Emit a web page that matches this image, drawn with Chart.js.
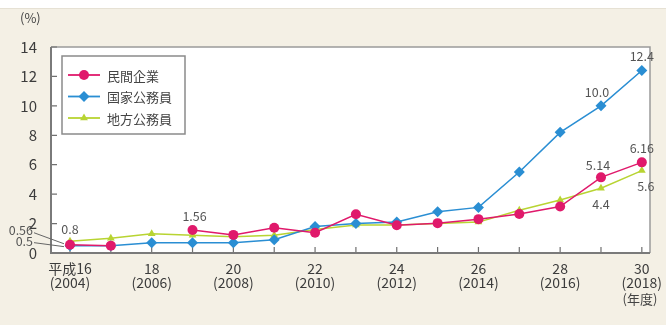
<!DOCTYPE html>
<html>
<head>
<meta charset="utf-8">
<script src="https://cdn.jsdelivr.net/npm/chart.js@4/dist/chart.umd.min.js"></script>
<style>
  html, body { margin: 0; padding: 0; background: #f4f0e5; }
  #wrap { width: 666px; height: 325px; }
</style>
</head>
<body>
<div id="wrap"><canvas id="line-chart" width="666" height="325"></canvas></div>
<script>
// 年度 (西暦)
var years = [2004, 2005, 2006, 2007, 2008, 2009, 2010, 2011, 2012, 2013, 2014, 2015, 2016, 2017, 2018];
var seriesNames = ["民間企業", "国家公務員", "地方公務員"];
// 男性の育児休業取得率 (%)
var minkan = [0.56, 0.50, null, 1.56, 1.23, 1.72, 1.38, 2.63, 1.89, 2.03, 2.30, 2.65, 3.16, 5.14, 6.16];
var kokka  = [0.5, 0.5, 0.7, 0.7, 0.7, 0.9, 1.8, 2.0, 2.1, 2.8, 3.1, 5.5, 8.2, 10.0, 12.4];
var chiho  = [0.8, 1.0, 1.3, 1.2, 1.1, 1.2, 1.6, 1.9, 1.9, 2.0, 2.1, 2.9, 3.6, 4.4, 5.6];
var yTicks = [0, 2, 4, 6, 8, 10, 12, 14];
var xLabels = {
  2004: ["平成16", "(2004)"], 2006: ["18", "(2006)"], 2008: ["20", "(2008)"],
  2010: ["22", "(2010)"], 2012: ["24", "(2012)"], 2014: ["26", "(2014)"],
  2016: ["28", "(2016)"], 2018: ["30", "(2018)"]
};
// 数値ラベル: [系列, 年, 表示]
var valueLabels = [
  [1, 2018, "12.4"], [1, 2017, "10.0"], [0, 2018, "6.16"], [0, 2017, "5.14"],
  [2, 2018, "5.6"], [2, 2017, "4.4"], [0, 2007, "1.56"], [2, 2004, "0.8"]
];

var FONT = "'Noto Sans CJK JP', 'Noto Sans', sans-serif";
var colors = ["#e0196b", "#2a8ed3", "#b8d432"];
var styles = ["circle", "rectRot", "triangle"];
var radii = [5, 5.5, 4.5];

function pts(arr) {
  return years.map(function (y, i) { return { x: y, y: arr[i] }; });
}

var datasets = [minkan, kokka, chiho].map(function (arr, i) {
  return {
    label: seriesNames[i],
    data: pts(arr),
    borderColor: colors[i],
    backgroundColor: colors[i],
    borderWidth: 1.5,
    pointStyle: styles[i],
    pointRadius: radii[i],
    pointBorderWidth: 0,
    spanGaps: false,
    tension: 0
  };
});
// draw order: green under, blue, pink on top
datasets[0].order = 1;
datasets[1].order = 2;
datasets[2].order = 3;

var decor = {
  id: "decor",
  beforeDraw: function (chart) {
    var ctx = chart.ctx, a = chart.chartArea;
    ctx.save();
    ctx.fillStyle = "#f4f0e5";
    ctx.fillRect(0, 0, chart.width, chart.height);
    ctx.fillStyle = "#ffffff";
    ctx.fillRect(0, 0, chart.width, 8);
    ctx.fillStyle = "#e6e1d4";
    ctx.fillRect(0, 8, chart.width, 1);
    ctx.fillStyle = "#ffffff";
    ctx.fillRect(a.left, a.top, a.right - a.left, a.bottom - a.top);
    ctx.restore();
  },
  beforeDatasetsDraw: function (chart) {
    var ctx = chart.ctx, a = chart.chartArea;
    var xs = chart.scales.x, ys = chart.scales.y;
    ctx.save();
    // top / right frame
    ctx.strokeStyle = "#9a9a9a";
    ctx.lineWidth = 1.5;
    ctx.beginPath();
    ctx.moveTo(a.left, a.top); ctx.lineTo(a.right, a.top); ctx.lineTo(a.right, a.bottom);
    ctx.stroke();
    // tick marks inside
    ctx.strokeStyle = "#707070";
    ctx.lineWidth = 1.2;
    ctx.beginPath();
    years.forEach(function (y) {
      var px = xs.getPixelForValue(y);
      ctx.moveTo(px, a.bottom); ctx.lineTo(px, a.bottom - 6);
    });
    yTicks.forEach(function (v) {
      var py = ys.getPixelForValue(v);
      ctx.moveTo(a.left, py); ctx.lineTo(a.left + 6, py);
    });
    ctx.stroke();
    // left / bottom axis
    ctx.strokeStyle = "#7a7a7a";
    ctx.lineWidth = 2;
    ctx.beginPath();
    ctx.moveTo(a.left, a.top); ctx.lineTo(a.left, a.bottom); ctx.lineTo(a.right, a.bottom);
    ctx.stroke();
    ctx.restore();
  },
  afterDraw: function (chart) {
    var ctx = chart.ctx, a = chart.chartArea;
    ctx.save();
    // unit labels
    ctx.fillStyle = "#444";
    ctx.font = "13px " + FONT;
    ctx.textBaseline = "middle";
    ctx.textAlign = "left";
    ctx.fillText("(%)", 20, 18);
    ctx.textAlign = "center";
    ctx.fillText("(年度)", 640, 299);

    // value labels
    ctx.fillStyle = "#555";
    ctx.font = "12.5px " + FONT;
    valueLabels.forEach(function (v) {
      var meta = chart.getDatasetMeta(v[0]);
      var p = meta.data[years.indexOf(v[1])];
      var dx = 0, dy = -14;
      if (v[0] === 2 && v[1] >= 2017) dy = 16;
      if (v[2] === "10.0") dx = -4;
      if (v[2] === "5.14") { dx = -3; dy = -12; }
      if (v[2] === "5.6") dx = 4;
      if (v[2] === "1.56") dx = 2;
      if (v[2] === "0.8") dy = -12;
      ctx.fillText(v[2], p.x + dx, p.y + dy);
    });

    // leader labels for 2004
    var pPink = chart.getDatasetMeta(0).data[0];
    var pBlue = chart.getDatasetMeta(1).data[0];
    ctx.textAlign = "right";
    ctx.fillText("0.56", a.left - 18, pPink.y - 15);
    ctx.fillText("0.5", a.left - 18, pBlue.y - 4);
    ctx.strokeStyle = "#666";
    ctx.lineWidth = 1;
    ctx.beginPath();
    ctx.moveTo(a.left - 17, pPink.y - 12); ctx.lineTo(pPink.x - 6, pPink.y - 1);
    ctx.moveTo(a.left - 17, pBlue.y - 3); ctx.lineTo(pBlue.x - 6, pBlue.y + 1);
    ctx.stroke();

    // legend box
    var bx = 62, by = 56, bw = 123, bh = 78;
    ctx.fillStyle = "#ffffff";
    ctx.fillRect(bx, by, bw, bh);
    ctx.strokeStyle = "#8a8a8a";
    ctx.lineWidth = 1.5;
    ctx.strokeRect(bx, by, bw, bh);
    chart.data.datasets.forEach(function (ds, i) {
      var ry = by + 19 + i * 21.5;
      ctx.strokeStyle = ds.borderColor;
      ctx.lineWidth = 1.8;
      ctx.beginPath();
      ctx.moveTo(bx + 6, ry); ctx.lineTo(bx + 38, ry);
      ctx.stroke();
      ctx.fillStyle = ds.backgroundColor;
      Chart.helpers.drawPoint(ctx, { pointStyle: ds.pointStyle, radius: ds.pointRadius, borderWidth: 0 }, bx + 22, ry);
      ctx.fillStyle = "#444";
      ctx.font = "13px " + FONT;
      ctx.textAlign = "left";
      ctx.fillText(ds.label, bx + 45, ry + 1);
    });
    ctx.restore();
  }
};

new Chart(document.getElementById("line-chart"), {
  type: "line",
  data: { datasets: datasets },
  options: {
    responsive: false,
    animation: false,
    events: [],
    layout: { padding: { top: 47, right: 16, left: 0, bottom: 0 } },
    plugins: { legend: { display: false }, tooltip: { enabled: false } },
    scales: {
      x: {
        type: "linear",
        min: 2003.535,
        max: 2018.2,
        grid: { display: false },
        border: { display: false },
        afterFit: function (s) { s.height = 72; },
        ticks: {
          stepSize: 1,
          includeBounds: false,
          autoSkip: false,
          maxRotation: 0,
          padding: 0,
          color: "#3c3c3c",
          font: { family: FONT, size: 14, lineHeight: 1.05 },
          callback: function (v) { return xLabels[v] || ""; }
        }
      },
      y: {
        min: 0,
        max: 14,
        grid: { display: false },
        border: { display: false },
        afterFit: function (s) { s.width = 51; },
        ticks: {
          stepSize: 2,
          padding: 6,
          color: "#3c3c3c",
          font: { family: FONT, size: 15 }
        }
      }
    }
  },
  plugins: [decor]
});
</script>
</body>
</html>
